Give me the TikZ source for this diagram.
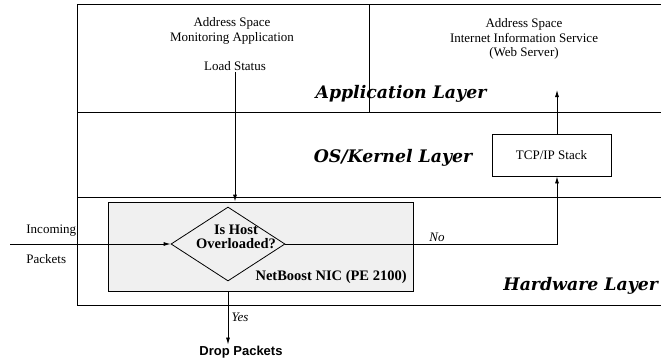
\documentclass[tikz,border=0pt]{standalone}
\usepackage{fontspec}
\setmainfont{Liberation Serif}
\setsansfont{Liberation Sans}
\newfontfamily\layerfont{DejaVu Serif}
\usetikzlibrary{shapes.geometric,arrows.meta}

\tikzset{
  txt/.style={font=\fontsize{13}{14.5}\selectfont, inner sep=1pt, align=center},
  layer/.style={font=\layerfont\fontsize{17.3}{18}\selectfont\bfseries\itshape, inner sep=0pt},
  nicfill/.style={fill=black!6, draw, line width=0.8pt},
}

\begin{document}
\begin{tikzpicture}[x=1pt,y=-1pt,line width=0.8pt,>={Latex[length=7pt,width=4pt]}]
\useasboundingbox (0,0) rectangle (661,360);

\draw (661,4) -- (77,4) -- (77,305) -- (661,305);
\draw (77,112) -- (661,112);
\draw (77,197) -- (661,197);
\draw (369,4) -- (369,112);

\node[txt] (mon) at (232,31) {Address Space\\Monitoring Application};
\node[txt] (load) at (235,66) {Load Status};
\node[txt] (iis) at (524,39) {Address Space\\Internet Information Service\\(Web Server)};

\node[layer, anchor=center] (applayer) at (401,94) {Application Layer};
\node[layer, anchor=center] (oslayer) at (393,158) {OS/Kernel Layer};
\node[layer, anchor=west] (hwlayer) at (503,286) {Hardware Layer};

\node[nicfill, minimum width=305, minimum height=89, inner sep=0pt] (nic) at (260.5,246.5) {};
\node[txt, anchor=east, font=\fontsize{14.5}{16}\selectfont\bfseries] (niclabel) at (408,277) {NetBoost NIC (PE 2100)};

\node[nicfill, diamond, minimum width=114, minimum height=74, inner sep=0pt] (host) at (228,244) {};
\node[txt, font=\fontsize{14.5}{14}\selectfont\bfseries] (hostq) at (236,237) {Is Host\\Overloaded?};

\node[txt, draw, minimum width=119, minimum height=42] (tcp) at (551.5,155) {TCP/IP Stack};

\node[txt, font=\sffamily\bfseries\fontsize{13}{14}\selectfont] (drop) at (241,352) {Drop Packets};

\coordinate (in) at (10,244);
\coordinate (iisin) at (557,90);

\node[txt, anchor=west] (incoming) at (25,231) {Incoming};
\node[txt, anchor=west] (packets) at (25,259) {Packets};
\node[txt, font=\fontsize{13}{14}\selectfont\itshape] (no) at (437,237) {No};
\node[txt, font=\fontsize{13}{14}\selectfont\itshape] (yes) at (240,317) {Yes};

\draw[->] (load) -- (load.south |- nic.north);
\draw[->] (in) -- (host.west);
\draw[->] (host.east) -| ([xshift=5.5pt]tcp.south);
\draw[->] ([xshift=5.5pt]tcp.north) -- (iisin);
\draw[->] (host |- nic.south) -- (host |- drop.north);
\end{tikzpicture}
\end{document}
